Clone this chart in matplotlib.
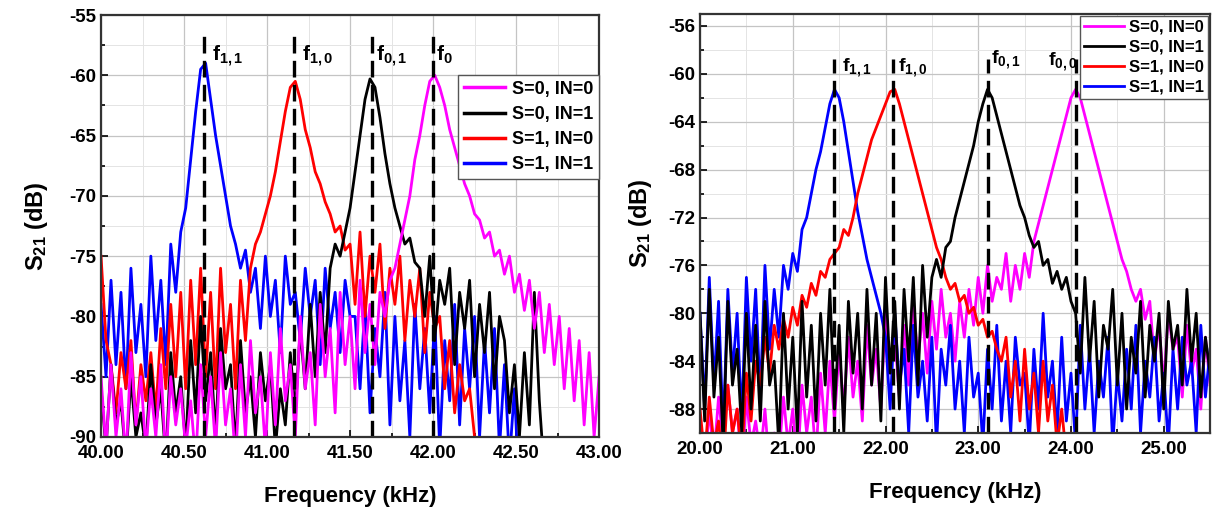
import numpy as np
import matplotlib.pyplot as plt
from matplotlib.ticker import MultipleLocator, FormatStrFormatter

plt.rcParams['font.family'] = ['Liberation Sans', 'DejaVu Sans']
plt.rcParams['font.weight'] = 'bold'
plt.rcParams['axes.unicode_minus'] = False
plt.rcParams['mathtext.fontset'] = 'custom'
plt.rcParams['mathtext.rm'] = 'Liberation Sans:bold'
plt.rcParams['mathtext.it'] = 'Liberation Sans:bold'
plt.rcParams['mathtext.bf'] = 'Liberation Sans:bold'

# ---- spectra around 40-43 kHz (left panel) ----
freq_a = np.linspace(40.0, 43.0, 101)

s0_in0_a = [-85, -91, -84, -90, -86, -92, -83, -89, -85, -91,
            -86, -90, -84, -92, -85, -89, -86, -91, -87, -92,
            -84, -90, -85, -91, -83, -89, -86, -92, -84, -90,
            -82, -88, -85, -91, -83, -89, -81, -87, -84, -90,
            -80, -86, -83, -89, -79, -85, -81, -88, -78, -84,
            -80, -86, -77, -83, -79, -84,
            -78, -80, -77, -76, -74, -72, -70, -67, -65, -62.5,
            -60.5, -60, -61, -62.5, -64.5, -66, -67.5, -69, -70, -71.5,
            -72, -73.5, -73, -75, -74.5, -76.5, -75, -78, -76.5, -79.5,
            -77, -81, -78, -83, -79, -84, -80, -86, -81, -87,
            -82, -89, -83, -90, -85]

s0_in1_a = [-86, -91, -84, -89, -87, -92, -85, -90, -88, -91,
            -84, -89, -86, -92, -83, -88, -85, -91, -82, -88,
            -80, -87, -83, -90, -81, -86, -84, -91, -82, -88,
            -85, -90, -83, -87, -84, -91, -86, -89, -83, -88,
            -81, -86, -79, -85, -78, -83,
            -76, -74, -75, -73, -71, -68, -65, -62, -60.3, -61,
            -63.5, -66.5, -69, -71, -72.5, -74, -73.5, -75.5,
            -76, -80, -75, -82, -77, -79, -76, -84, -78, -81,
            -77, -85, -79, -83, -78, -86, -80,
            -82, -88, -84, -90, -83, -89, -78,
            -87, -93, -95, -96, -97, -98, -99, -99, -99, -99, -99, -99, -99]

s1_in0_a = [-75, -82, -84, -88, -83, -86, -82, -89, -84, -87,
            -83, -88, -81, -86, -79, -85, -78, -86, -77, -84,
            -76, -85, -78, -86, -76, -83, -79, -86, -77, -82, -76,
            -74, -73, -71.5, -70, -68, -65.5, -63, -61, -60.5, -62,
            -64.5, -66, -68, -69, -70.5, -71.5, -73, -72.5, -74.5,
            -74, -79, -73, -80, -75, -78, -74, -81, -76, -79,
            -75, -82, -77, -80, -76, -83, -78, -81,
            -80, -86, -82, -88, -84, -87, -86, -90,
            -95, -95, -95, -95, -95, -95, -95, -95, -95, -95,
            -95, -95, -95, -95, -95, -95, -95, -95, -95, -95,
            -95, -95, -95, -95, -95]

s1_in1_a = [-79, -85, -77, -84, -78, -86, -76, -83, -79, -85,
            -75, -82, -77, -84, -74,
            -78, -73, -71, -67, -63, -59.5, -59, -62, -65, -67.5,
            -70, -72.5, -74, -76, -74.5, -78,
            -76, -81, -75, -80, -77, -83, -75, -79, -78, -82,
            -76, -80, -77, -84, -76, -81, -78, -83, -77, -80,
            -80, -86, -79, -88, -81, -85, -78, -89, -80, -87,
            -82, -90, -79, -86, -81, -88, -80, -91, -82, -87,
            -79, -89, -81, -86, -80, -90, -82, -88, -81, -91,
            -84, -92, -86, -95,
            -97, -97, -97, -97, -97, -97, -97, -97, -97, -97,
            -97, -97, -97, -97, -97, -97]

peaks_a = [40.62, 41.16, 41.63, 42.00]
names_a = ['f$_{1,1}$', 'f$_{1,0}$', 'f$_{0,1}$', 'f$_{0}$']

# ---- spectra around 20-25.5 kHz (right panel) ----
freq_b = np.linspace(20.0, 25.5, 111)

s0_in0_b = [-89, -93, -88, -92, -87, -91, -86, -90, -88, -93,
            -87, -91, -89, -92, -88, -93, -90, -92, -87, -91,
            -88, -93, -86, -90, -87, -92, -85, -90, -84, -89,
            -83, -88, -82, -87, -84, -89, -81, -86, -83, -88,
            -80, -85, -82, -87, -81, -86, -79, -84, -80, -85,
            -79, -83, -78, -82, -80, -84, -79, -82, -78, -81,
            -77, -80, -76, -79, -77, -78, -75, -79, -76, -78, -75, -77, -74,
            -72.5, -71, -69.5, -68, -66.5, -65, -63.5, -62, -61.3, -62,
            -63.5, -65, -66.5, -68, -69.5, -71, -72.5, -74, -75.5, -76.5,
            -78, -79, -78, -80.5,
            -79, -84, -81, -86, -80, -83, -82, -87, -81, -85, -83, -88, -82, -86]

s0_in1_b = [-80, -89, -78, -87, -82, -91, -79, -86, -83, -90,
            -80, -88, -81, -89, -79, -86, -84, -91, -80, -88,
            -82, -90, -79, -87, -81, -89, -80, -86, -78, -88,
            -81, -90, -79, -85, -80, -88, -78, -86, -80, -89,
            -77, -85, -79, -88, -78, -84, -77, -86, -76, -82,
            -77, -75.5, -77, -74.5, -74, -72, -70.5, -69, -67.5, -66,
            -64, -62.5, -61.3, -62, -63.5, -65, -66.5, -68, -69.5, -71,
            -72, -73.5, -74.5, -74, -76, -75.5, -77.5, -76.5, -78, -77, -79,
            -80, -85, -77, -84, -79, -87, -81, -83, -78, -86,
            -80, -88, -82, -85, -79, -87, -81, -84, -80, -88,
            -79, -83, -81, -86, -78, -84, -80, -87, -82, -85]

s1_in0_b = [-88, -92, -87, -91, -89, -93, -86, -90, -88, -92, -85, -89,
            -84, -86, -82, -85, -81, -83, -80.5, -82, -79.5, -81,
            -78.5, -79.5, -77.5, -78.5, -76.5, -77, -75.5, -75, -74.5, -73,
            -73.5, -72, -70, -68.5, -67, -65.5, -64.5, -63.5, -62.5, -61.5,
            -61.3, -62.5, -64, -65.5, -67, -68.5, -70, -71.5, -73, -74.5,
            -75.5, -77, -78, -77.5, -79, -78.5, -80, -79.5, -81, -80.5,
            -82, -81.5, -83, -84,
            -82, -87, -84, -89, -83, -88, -85, -90, -84, -89,
            -86, -91, -88, -92, -90,
            -95, -95, -95, -95, -95, -95, -95, -95, -95, -95,
            -95, -95, -95, -95, -95, -95, -95, -95, -95, -95,
            -95, -95, -95, -95, -95, -95, -95, -95, -95, -95]

s1_in1_b = [-80, -88, -77, -86, -79, -90, -78, -85, -80, -89,
            -77, -84, -78, -87, -76, -83, -78, -82,
            -76, -78, -75, -76.5, -73, -72, -70, -68, -66.5, -64.5,
            -62.5, -61.3, -62, -64, -66.5, -69, -71.5, -73.5, -75.5, -77,
            -78.5, -80,
            -82, -88, -80, -86, -83, -90, -81, -87, -84, -89,
            -82, -91, -83, -86, -81, -88, -84, -90, -82, -87,
            -85, -91, -83, -88, -81, -89, -84, -90, -82, -86,
            -85, -91, -83, -88, -80, -87, -84, -90, -82, -89,
            -85, -91, -81, -88, -83, -90, -84, -87, -82, -91,
            -85, -89, -83, -88, -81, -90, -84, -87, -82, -89,
            -85, -91, -83, -88, -82, -86, -84, -90, -81, -87,
            -83]

peaks_b = [21.45, 22.08, 23.10, 24.05]
names_b = ['f$_{1,1}$', 'f$_{1,0}$', 'f$_{0,1}$', 'f$_{0,0}$']

labels = ['S=0, IN=0', 'S=0, IN=1', 'S=1, IN=0', 'S=1, IN=1']
colors = ['#ff00ff', '#000000', '#ff0000', '#0000ff']


def style_axes(ax, xmaj, xmin, ymaj, ymin):
    ax.xaxis.set_major_locator(MultipleLocator(xmaj))
    ax.xaxis.set_minor_locator(MultipleLocator(xmin))
    ax.yaxis.set_major_locator(MultipleLocator(ymaj))
    ax.yaxis.set_minor_locator(MultipleLocator(ymin))
    ax.xaxis.set_major_formatter(FormatStrFormatter('%.2f'))
    ax.grid(which='major', color='#c4c4c4', lw=0.9)
    ax.grid(which='minor', color='#e4e4e4', lw=0.7)
    ax.set_axisbelow(True)
    ax.tick_params(which='both', direction='in', labelsize=13.5, width=1.2)
    ax.tick_params(axis='x', pad=6)
    ax.tick_params(which='major', length=5)
    ax.tick_params(which='minor', length=3)
    for sp in ax.spines.values():
        sp.set_linewidth(1.6)
        sp.set_color('#333333')
    ax.set_xlabel('Frequency (kHz)', fontsize=16, fontweight='bold')
    ax.set_ylabel('S$_{21}$ (dB)', fontsize=17, fontweight='bold')


fig = plt.figure(figsize=(12.13, 5.12), dpi=100)

# left panel
ax1 = fig.add_axes([0.0833, 0.1465, 0.4106, 0.8242])
series_a = [s0_in0_a, s0_in1_a, s1_in0_a, s1_in1_a]
handles = [None] * 4
# blue first, magenta last so the magenta floor stays on top
for idx in [3, 2, 1, 0]:
    h, = ax1.plot(freq_a, series_a[idx], color=colors[idx], lw=2.0, label=labels[idx])
    handles[idx] = h
ax1.vlines(peaks_a, -90, -56.2, colors='k', linestyles=(0, (5, 2.2)), lw=2.4)
dx_a = [0.05, 0.05, 0.025, 0.02]
for f, name, dx in zip(peaks_a, names_a, dx_a):
    ax1.text(f + dx, -58.8, name, fontsize=15, va='baseline')
ax1.set_xlim(40, 43)
ax1.set_ylim(-90, -55)
style_axes(ax1, 0.5, 0.25, 5, 2.5)
ax1.yaxis.labelpad = 14
ax1.xaxis.labelpad = 17
leg = ax1.legend(handles=handles, loc='upper right', bbox_to_anchor=(1.0, 0.857),
                 borderaxespad=0, fontsize=13, fancybox=False, framealpha=1,
                 edgecolor='#555555', handlelength=2.3, handletextpad=0.4,
                 labelspacing=0.45, borderpad=0.3)
leg.get_frame().set_linewidth(1.0)
for ln in leg.get_lines():
    ln.set_linewidth(2.5)

# right panel
ax2 = fig.add_axes([0.5771, 0.1543, 0.4205, 0.8184])
series_b = [s0_in0_b, s0_in1_b, s1_in0_b, s1_in1_b]
handles = [None] * 4
# magenta first, then blue, red and black on top
for idx in [0, 3, 2, 1]:
    h, = ax2.plot(freq_b, series_b[idx], color=colors[idx], lw=2.0, label=labels[idx])
    handles[idx] = h
ax2.vlines(peaks_b, -90, -58.8, colors='k', linestyles=(0, (5, 2.2)), lw=2.4)
dx_b = [0.08, 0.05, 0.04, -0.30]
ty_b = [-59.8, -59.8, -59.1, -59.3]
for f, name, dx, ty in zip(peaks_b, names_b, dx_b, ty_b):
    ax2.text(f + dx, ty, name, fontsize=14, va='baseline')
ax2.set_xlim(20, 25.5)
ax2.set_ylim(-90, -55)
style_axes(ax2, 1.0, 0.5, 4, 2)
ax2.set_yticks(np.arange(-56, -89, -4))
ax2.yaxis.labelpad = 10
ax2.xaxis.labelpad = 17
leg = ax2.legend(handles=handles, loc='upper right', bbox_to_anchor=(1.0, 1.0),
                 borderaxespad=0.1, fontsize=12, fancybox=False, framealpha=1,
                 edgecolor='#555555', handlelength=2.4, handletextpad=0.3,
                 labelspacing=0.3, borderpad=0.25)
leg.get_frame().set_linewidth(1.0)
for ln in leg.get_lines():
    ln.set_linewidth(2.0)

fig.savefig('out.png', dpi=100)
